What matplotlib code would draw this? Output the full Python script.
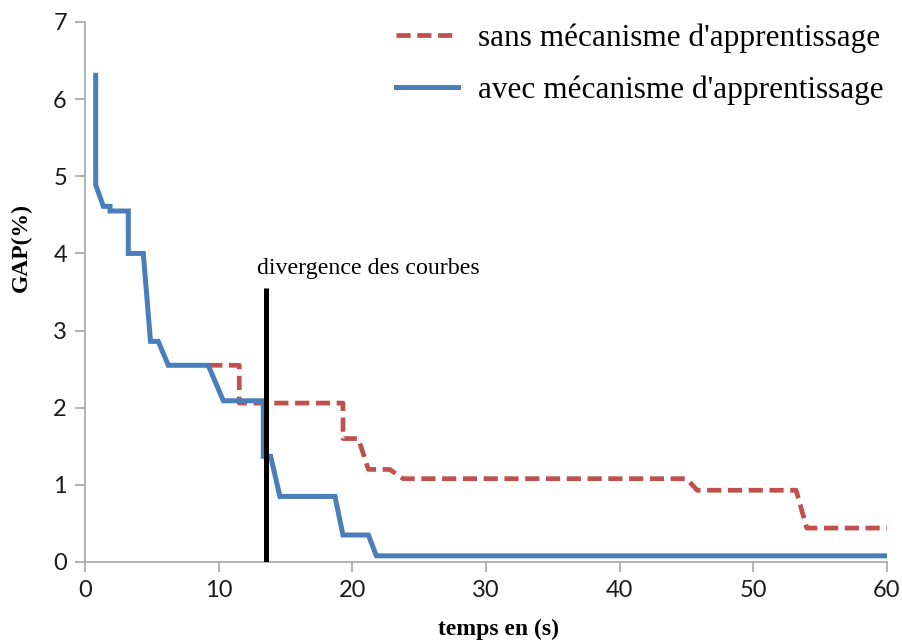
import matplotlib
matplotlib.use("Agg")
import matplotlib.pyplot as plt

# Data
blue_x = [0.8, 0.8, 1.37, 1.87, 1.87, 3.24, 3.24, 4.36, 4.9, 5.48, 6.23, 9.22, 10.35,
          13.34, 13.34, 13.89, 14.58, 18.7, 19.3, 21.2, 21.8, 60]
blue_y = [6.31, 4.89, 4.61, 4.61, 4.55, 4.55, 4.0, 4.0, 2.86, 2.86, 2.55, 2.55, 2.09,
          2.09, 1.37, 1.37, 0.85, 0.85, 0.35, 0.35, 0.08, 0.08]

red_x = [9.22, 11.54, 11.54, 19.3, 19.3, 20.45, 21.2, 22.8, 23.8, 45.0, 45.8, 53.2, 54.0, 60]
red_y = [2.55, 2.55, 2.06, 2.06, 1.6, 1.6, 1.2, 1.2, 1.08, 1.08, 0.93, 0.93, 0.44, 0.44]

divergence_x = 13.55
divergence_top = 3.55

x_ticks = [0, 10, 20, 30, 40, 50, 60]
y_ticks = [0, 1, 2, 3, 4, 5, 6, 7]

label_red = "sans mécanisme d'apprentissage"
label_blue = "avec mécanisme d'apprentissage"

fig = plt.figure(figsize=(9.03, 6.44), dpi=100)
ax = fig.add_axes([85/903, 1-562/644, (887-85)/903, (562-22)/644])

blue_c = "#4A7EBB"
red_c = "#C0504D"

ax.plot(red_x, red_y, color=red_c, lw=3.4, linestyle=(0, (3.0, 1.4)), label=label_red,
        dash_capstyle='butt', zorder=2)
ax.plot(blue_x, blue_y, color=blue_c, lw=3.6, label=label_blue, zorder=3,
        solid_joinstyle='miter')
ax.plot([divergence_x, divergence_x], [0, divergence_top], color='black', lw=3.6, zorder=4,
        solid_capstyle='butt')
ax.text(divergence_x - 0.7, divergence_top + 0.12, "divergence des courbes",
        fontfamily='Liberation Serif', fontsize=17.2, ha='left', va='bottom')

ax.set_xlim(0, 60)
ax.set_ylim(0, 7)
ax.set_xticks(x_ticks)
ax.set_yticks(y_ticks)

for s in ['top', 'right']:
    ax.spines[s].set_visible(False)
for s in ['left', 'bottom']:
    ax.spines[s].set_color('#A6A6A6')
    ax.spines[s].set_linewidth(1.2)
ax.tick_params(axis='both', direction='out', length=7, width=1.2, color='#A6A6A6',
               labelsize=17, labelcolor='#1a1a1a', pad=6)
for lab in ax.get_xticklabels() + ax.get_yticklabels():
    lab.set_fontfamily('Lato')

ax.set_xlabel("temps en (s)", fontfamily='Liberation Serif', fontweight='bold', fontsize=17)
ax.set_ylabel("GAP(%)", fontfamily='Liberation Serif', fontweight='bold', fontsize=17)
ax.xaxis.set_label_coords((499-85)/802, (562-619)/540)
ax.yaxis.set_label_coords((32-85)/802, (562-248)/540)

leg = ax.legend(loc='upper right', bbox_to_anchor=(1.031, 1.049), frameon=False,
                prop={'family': 'Liberation Serif', 'size': 22.5}, handlelength=2.0,
                handletextpad=0.64, labelspacing=0.71)

fig.savefig("out.png", dpi=100)
